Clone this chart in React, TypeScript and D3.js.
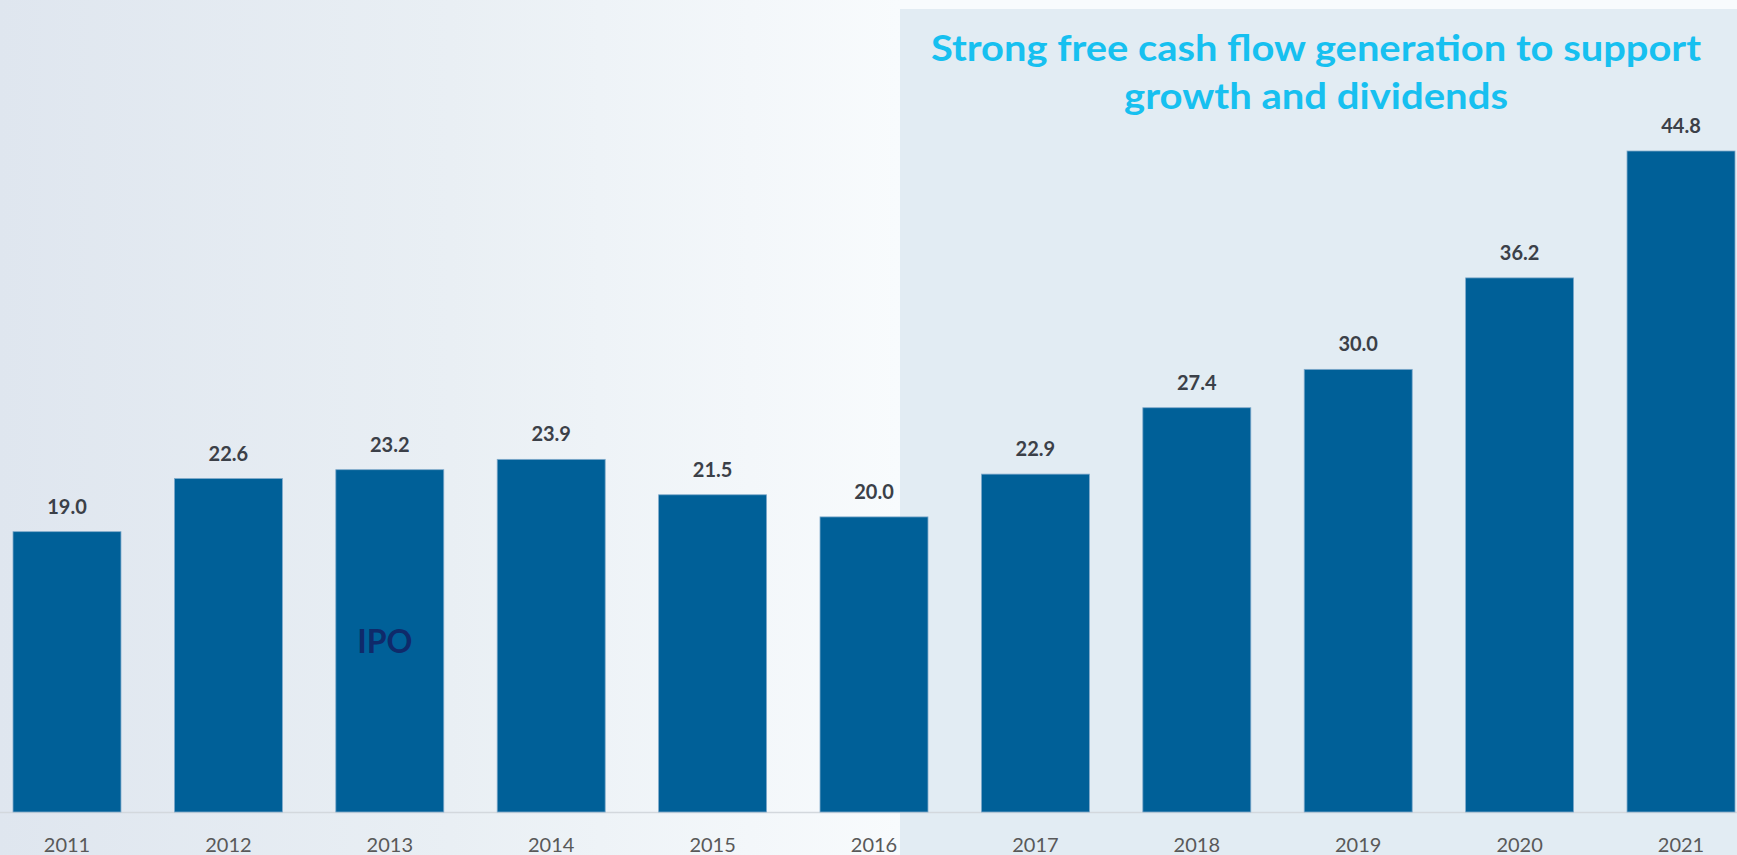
import React from "react";
import * as d3 from "d3";

const years = ["2011", "2012", "2013", "2014", "2015", "2016", "2017", "2018", "2019", "2020", "2021"];
const values = [19.0, 22.6, 23.2, 23.9, 21.5, 20.0, 22.9, 27.4, 30.0, 36.2, 44.8];
const titleLines = ["Strong free cash flow generation to support", "growth and dividends"];
const ipoYear = "2013";

const W = 1737;
const H = 855;

export default function App() {
  const x = d3.scaleBand<string>().domain(years).range([13, 1735]).paddingInner(0.331).paddingOuter(0);
  const y = d3.scaleLinear().domain([0, 44.8]).range([812, 151]);
  const font = "Lato, 'Open Sans', sans-serif";

  return (
    <svg
      width={W}
      height={H}
      style={{ position: "absolute", left: 0, top: 0, display: "block" }}
    >
      <defs>
        <linearGradient id="bg" x1="0" x2="900" y1="0" y2="0" gradientUnits="userSpaceOnUse">
          <stop offset="0" stopColor="#DFE6EF" />
          <stop offset="0.5" stopColor="#E9EFF4" />
          <stop offset="1" stopColor="#F8FBFD" />
        </linearGradient>
      </defs>
      <rect x={0} y={0} width={W} height={H} fill="url(#bg)" />
      <rect x={900} y={0} width={W - 900} height={H} fill="#F8FBFD" />
      <rect x={900} y={9} width={W - 900} height={H - 9} fill="#E2ECF3" />

      {titleLines.map((t, i) => (
        <text
          key={i}
          x={1316}
          y={61 + i * 48}
          textAnchor="middle"
          fontFamily={font}
          fontWeight={700}
          fontSize={36}
          fill="#17C0F0"
          textLength={i === 0 ? 770 : 384}
          lengthAdjust="spacingAndGlyphs"
        >
          {t}
        </text>
      ))}

      <line x1={0} x2={W} y1={812.5} y2={812.5} stroke="#D3D8DD" strokeWidth={1.5} />

      {years.map((yr, i) => {
        const bx = x(yr)!;
        const v = values[i];
        return (
          <g key={yr}>
            <rect
              x={bx}
              y={y(v)}
              width={x.bandwidth()}
              height={y(0) - y(v)}
              fill="#006098"
              stroke="#7FAACB"
              strokeWidth={0.8}
            />
            <text
              x={bx + x.bandwidth() / 2}
              y={y(v) - 18}
              textAnchor="middle"
              fontFamily={font}
              fontWeight={700}
              fontSize={20}
              fill="#3B4048"
            >
              {v.toFixed(1)}
            </text>
            <text
              x={bx + x.bandwidth() / 2}
              y={852}
              textAnchor="middle"
              fontFamily={font}
              fontSize={20}
              fill="#595959"
            >
              {yr}
            </text>
          </g>
        );
      })}

      <text
        x={x(ipoYear)! + x.bandwidth() / 2 - 5}
        y={653}
        textAnchor="middle"
        fontFamily={font}
        fontWeight={700}
        fontSize={32}
        fill="#0F2A6A"
      >
        IPO
      </text>
    </svg>
  );
}
